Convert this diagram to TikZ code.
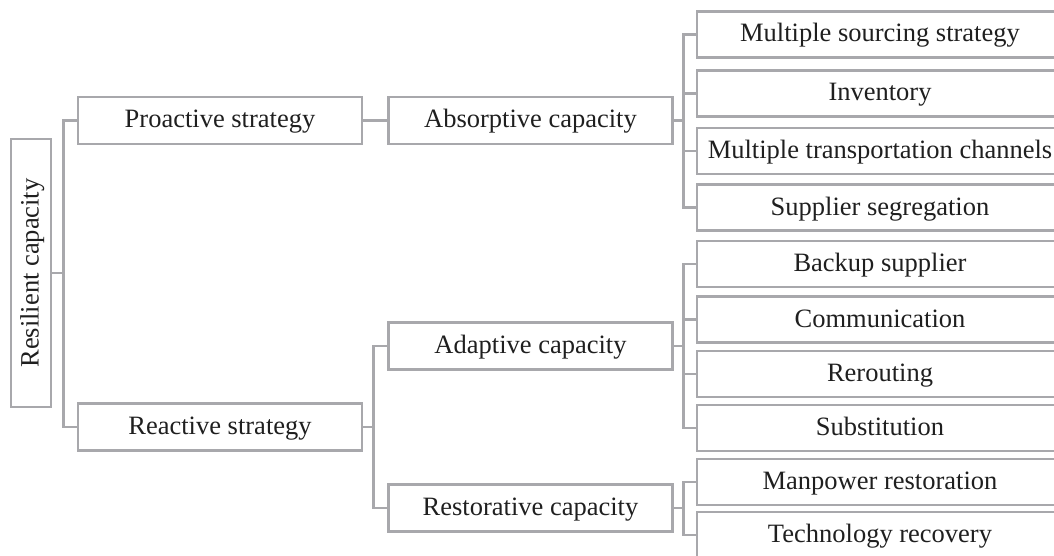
\documentclass[tikz,border=0pt]{standalone}
\usepackage{fontspec}
\setmainfont{Liberation Serif}
\definecolor{linegray}{RGB}{168,168,172}
\begin{document}
\begin{tikzpicture}[x=1pt,y=-1pt,
  box/.style={draw=linegray, line width=2.6pt, inner sep=0pt, text=black!88,
    text height=19pt, text depth=4pt, font=\fontsize{26.5}{30}\selectfont},
  midbox/.style={box, minimum width=284pt, minimum height=47pt},
  leafbox/.style={box, minimum width=366pt, minimum height=46pt},
  link/.style={draw=linegray, line width=2.6pt}]
\useasboundingbox (0,0) rectangle (1054,556);
\clip (0,0) rectangle (1054,556);
% root and strategies
\node (res) at (31,273) [box, rotate=90, minimum width=268pt, minimum height=40pt] {Resilient capacity};
\node (pro) at (220,120.5) [midbox] {Proactive strategy};
\node (rea) at (220,427) [midbox] {Reactive strategy};
% capacities
\node (abs) at (530.5,120.5) [midbox] {Absorptive capacity};
\node (ada) at (530.5,346) [midbox] {Adaptive capacity};
\node (rst) at (530.5,508) [midbox] {Restorative capacity};
% measures
\foreach \name/\y/\txt in {ms/34.5/Multiple sourcing strategy, inv/93.5/Inventory,
    mtc/151/Multiple transportation channels, seg/207.5/Supplier segregation,
    bak/264/Backup supplier, com/319.5/Communication, rer/374/Rerouting,
    sub/428/Substitution, man/482/Manpower restoration, tec/535/Technology recovery}
  \node (\name) at (880,\y) [leafbox] {\txt};
% connectors
\draw [link] (pro.west) -- ++(-13,0) |- (res.south);
\draw [link] (rea.west) -- ++(-13,0) |- (res.south);
\draw [link] (pro.east) -- (abs.west);
\draw [link] (ada.west) -- ++(-14,0) |- (rea.east);
\draw [link] (rst.west) -- ++(-14,0) |- (rea.east);
\foreach \name in {ms,inv,mtc,seg}
  \draw [link] (\name.west) -- ++(-12,0) |- (abs.east);
\foreach \name in {bak,com,rer,sub}
  \draw [link] (\name.west) -- ++(-12,0) |- (ada.east);
\foreach \name in {man,tec}
  \draw [link] (\name.west) -- ++(-12,0) |- (rst.east);
\end{tikzpicture}
\end{document}
